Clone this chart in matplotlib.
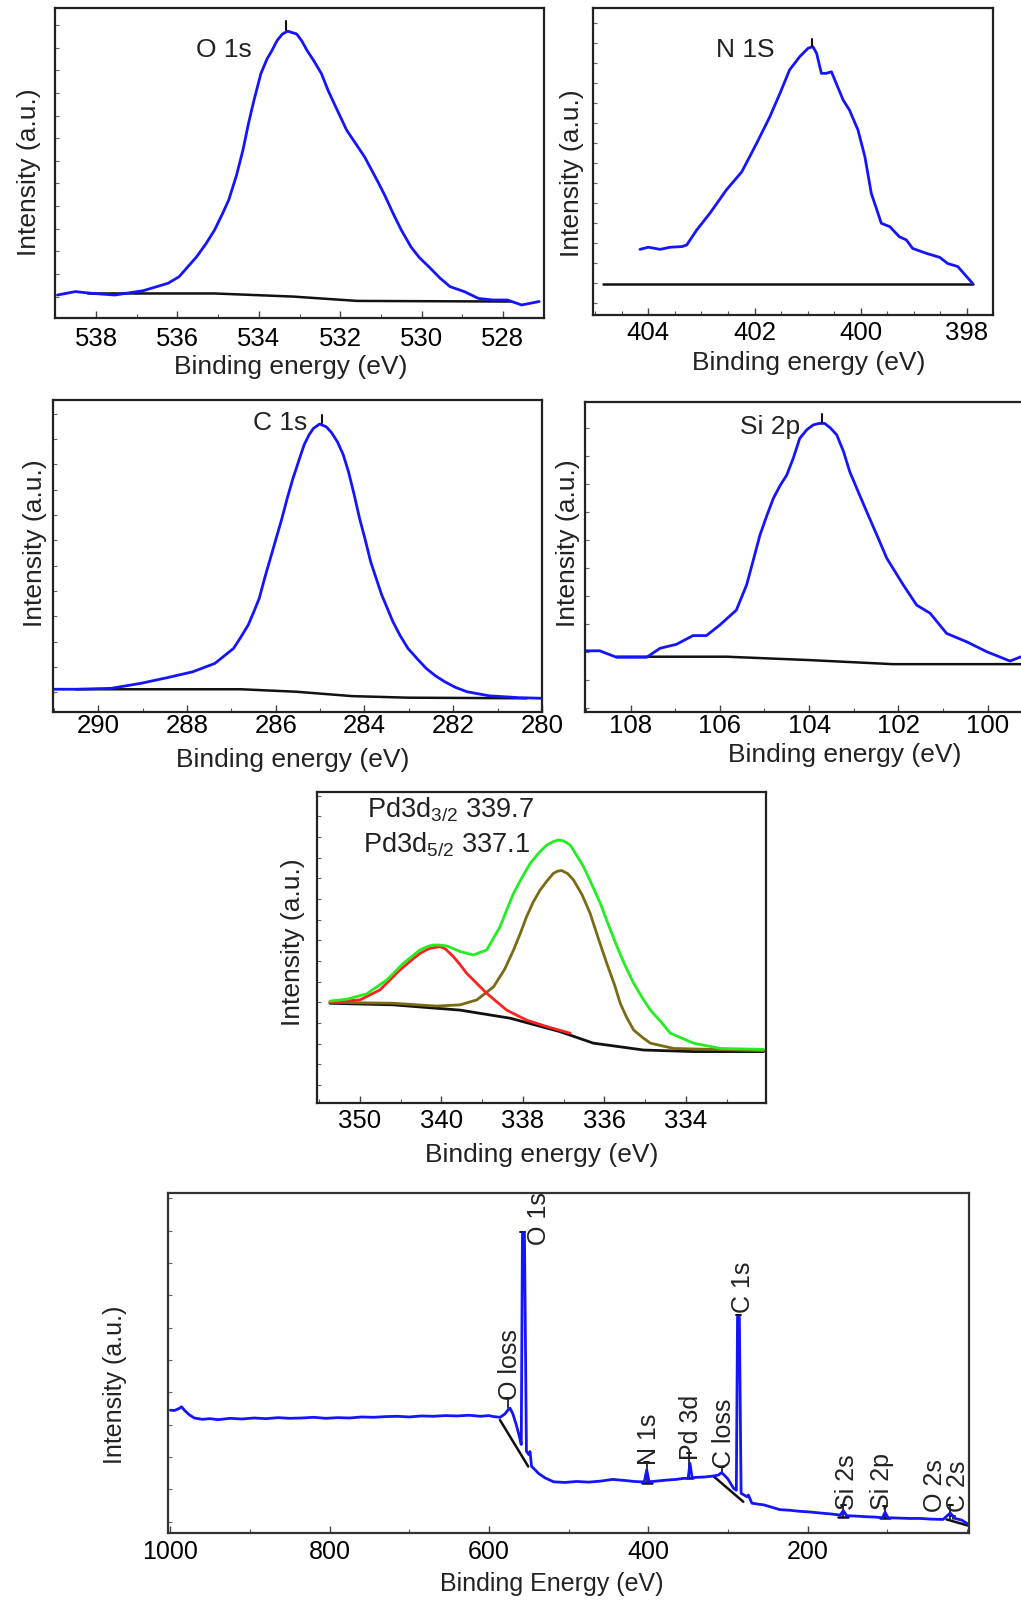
import matplotlib
matplotlib.use("Agg")
import matplotlib.pyplot as plt
import numpy as np

plt.rcParams['font.family'] = ['Liberation Sans', 'DejaVu Sans']
plt.rcParams['mathtext.fontset'] = 'custom'
plt.rcParams['mathtext.rm'] = 'Liberation Sans'
plt.rcParams['lines.solid_joinstyle'] = 'round'
plt.rcParams['lines.solid_capstyle'] = 'round'

# ---------------- data ----------------
# O 1s
o1s_x = [538.95, 538.51, 538.07, 537.54, 536.84, 536.23, 535.96, 535.53, 535.30, 535.09, 534.90, 534.74,
         534.55, 534.39, 534.25, 534.12, 533.95, 533.80, 533.68, 533.55, 533.42, 533.29, 533.07, 532.95,
         532.81, 532.65, 532.46, 532.30, 532.11, 531.84, 531.40, 531.05, 530.90, 530.70, 530.50, 530.26,
         530.05, 529.82, 529.55, 529.30, 528.95, 528.60, 528.25, 527.89, 527.54, 527.11]
o1s_y = [0.075, 0.086, 0.080, 0.075, 0.089, 0.113, 0.134, 0.198, 0.240, 0.284, 0.335, 0.381,
         0.460, 0.542, 0.630, 0.702, 0.788, 0.835, 0.862, 0.895, 0.916, 0.925, 0.916, 0.895,
         0.862, 0.830, 0.788, 0.735, 0.681, 0.606, 0.520, 0.434, 0.395, 0.338, 0.285, 0.230,
         0.195, 0.166, 0.130, 0.102, 0.086, 0.064, 0.059, 0.059, 0.043, 0.054]
o1s_bg_x = [538.20, 535.09, 533.16, 531.58, 527.81]
o1s_bg_y = [0.080, 0.080, 0.070, 0.056, 0.054]

# N 1s
n1s_x = [404.16, 404.0, 403.78, 403.59, 403.37, 403.28, 403.09, 402.84, 402.53, 402.24, 401.96, 401.71,
         401.52, 401.34, 401.15, 400.99, 400.90, 400.83, 400.74, 400.65, 400.55, 400.46, 400.33, 400.21,
         400.05, 399.92, 399.80, 399.61, 399.45, 399.27, 399.14, 399.02, 398.76, 398.51, 398.36, 398.17, 397.89]
n1s_y = [0.214, 0.221, 0.214, 0.221, 0.223, 0.228, 0.277, 0.332, 0.408, 0.467, 0.560, 0.647,
         0.723, 0.799, 0.842, 0.870, 0.875, 0.853, 0.788, 0.788, 0.793, 0.755, 0.701, 0.668,
         0.603, 0.516, 0.397, 0.299, 0.288, 0.255, 0.245, 0.217, 0.201, 0.188, 0.168, 0.158, 0.103]
n1s_bg_x = [404.85, 397.89]
n1s_bg_y = [0.100, 0.100]

# C 1s
c1s_x = [291.0, 290.5, 289.71, 289.04, 288.45, 287.87, 287.37, 286.95, 286.80, 286.62, 286.50, 286.37,
         286.25, 286.12, 285.99, 285.86, 285.74, 285.61, 285.48, 285.36, 285.25, 285.15, 285.01, 284.86,
         284.74, 284.61, 284.48, 284.36, 284.23, 284.11, 283.98, 283.86, 283.73, 283.61, 283.48, 283.36,
         283.20, 283.02, 282.80, 282.61, 282.40, 282.19, 281.95, 281.69, 281.19, 280.52, 280.0]
c1s_y = [0.072, 0.072, 0.075, 0.091, 0.109, 0.128, 0.155, 0.203, 0.236, 0.278, 0.318, 0.364,
         0.428, 0.492, 0.556, 0.620, 0.685, 0.749, 0.805, 0.856, 0.888, 0.909, 0.923, 0.914,
         0.895, 0.866, 0.825, 0.770, 0.695, 0.620, 0.550, 0.481, 0.425, 0.374, 0.330, 0.289,
         0.245, 0.203, 0.168, 0.139, 0.115, 0.096, 0.078, 0.064, 0.051, 0.045, 0.043]
c1s_bg_x = [290.5, 286.78, 285.53, 284.28, 283.02, 280.35]
c1s_bg_y = [0.072, 0.072, 0.064, 0.050, 0.045, 0.043]

# Si 2p
si_x = [109.02, 108.69, 108.31, 107.64, 107.34, 106.97, 106.60, 106.30, 106.00, 105.63, 105.40, 105.25,
        105.10, 104.95, 104.80, 104.65, 104.50, 104.35, 104.21, 104.05, 103.91, 103.78, 103.65, 103.52,
        103.38, 103.23, 103.09, 102.90, 102.71, 102.48, 102.26, 101.89, 101.59, 101.29, 100.92, 100.47,
        100.02, 99.50, 99.25, 99.05]
si_y = [0.198, 0.198, 0.177, 0.177, 0.206, 0.219, 0.247, 0.247, 0.281, 0.329, 0.410, 0.490,
        0.571, 0.632, 0.689, 0.730, 0.764, 0.820, 0.882, 0.910, 0.925, 0.930, 0.930, 0.915,
        0.893, 0.840, 0.775, 0.710, 0.646, 0.570, 0.496, 0.410, 0.345, 0.319, 0.254, 0.227,
        0.195, 0.165, 0.179, 0.195]
si_bg_x = [108.31, 105.85, 103.98, 102.12, 99.0]
si_bg_y = [0.179, 0.179, 0.168, 0.155, 0.155]

# Pd 3d
pd_tot_x = [342.74, 342.33, 341.84, 341.34, 340.94, 340.53, 340.35, 340.20, 340.05, 339.87, 339.54, 339.22,
            338.89, 338.56, 338.40, 338.23, 338.00, 337.82, 337.60, 337.41, 337.25, 337.13, 337.00, 336.84,
            336.70, 336.51, 336.30, 336.10, 335.90, 335.69, 335.50, 335.28, 335.05, 334.87, 334.60, 334.38,
            333.81, 333.15, 332.09]
pd_tot_y = [0.328, 0.334, 0.351, 0.396, 0.449, 0.492, 0.503, 0.508, 0.508, 0.505, 0.487, 0.476,
            0.492, 0.567, 0.620, 0.674, 0.730, 0.770, 0.805, 0.829, 0.840, 0.845, 0.842, 0.829,
            0.800, 0.759, 0.700, 0.642, 0.573, 0.503, 0.445, 0.385, 0.335, 0.299, 0.260, 0.225,
            0.193, 0.176, 0.173]
pd32_x = [342.74, 342.0, 341.51, 341.02, 340.75, 340.53, 340.30, 340.03, 339.90, 339.71, 339.55, 339.38,
          338.89, 338.40, 337.91, 337.41, 336.84]
pd32_y = [0.324, 0.332, 0.364, 0.428, 0.458, 0.481, 0.497, 0.503, 0.495, 0.471, 0.446, 0.417,
          0.353, 0.299, 0.267, 0.246, 0.225]
pd52_x = [342.74, 341.18, 340.12, 339.54, 339.13, 338.72, 338.45, 338.23, 338.05, 337.91, 337.75, 337.58,
          337.40, 337.25, 337.15, 337.05, 336.90, 336.76, 336.55, 336.35, 336.15, 335.94, 335.75, 335.61,
          335.45, 335.28, 335.05, 334.87, 334.30, 332.09]
pd52_y = [0.324, 0.321, 0.312, 0.316, 0.332, 0.374, 0.430, 0.492, 0.550, 0.599, 0.645, 0.684,
          0.715, 0.738, 0.745, 0.747, 0.737, 0.717, 0.670, 0.610, 0.530, 0.449, 0.380, 0.321,
          0.275, 0.235, 0.210, 0.193, 0.176, 0.169]
pd_bg_x = [342.74, 341.18, 339.54, 338.31, 337.09, 336.27, 335.04, 333.81, 332.09]
pd_bg_y = [0.321, 0.316, 0.299, 0.273, 0.230, 0.193, 0.171, 0.166, 0.166]
pd_ticks = [342, 340, 338, 336, 334]
pd_ticklabels = ["350", "340", "338", "336", "334"]
pd_text = [r"Pd3d$_{\mathregular{3/2}}$ 339.7", r"Pd3d$_{\mathregular{5/2}}$ 337.1"]

# Survey
sv_x = [1000, 995, 989, 986, 982, 976, 970, 960, 950, 940, 925, 910, 895, 880, 865, 850, 835, 820, 805, 790,
        775, 760, 745, 730, 715, 700, 685, 670, 655, 640, 625, 611, 600, 594, 586, 580, 576, 573.6, 570, 566,
        562, 559.5, 558, 555.5, 553, 550, 548.5, 546.5, 542, 538, 530, 519, 505, 490, 475, 460, 445, 430,
        418, 410, 405, 402, 399, 390, 377, 365, 356, 350, 347.7, 345, 340, 330, 318, 312, 308, 304, 300,
        293, 289.5, 288, 285.7, 283.5, 279, 276.4, 274.4, 270, 262, 255, 245, 235, 222, 210, 197, 184, 170,
        159, 155.2, 151, 140, 126, 115, 106, 102.8, 99, 85, 72, 59, 45, 30, 21, 15, 6.5, -3]
sv_y = [0.361, 0.360, 0.366, 0.371, 0.360, 0.347, 0.338, 0.334, 0.336, 0.333, 0.337, 0.335, 0.338, 0.336,
        0.339, 0.337, 0.338, 0.340, 0.337, 0.339, 0.338, 0.341, 0.340, 0.342, 0.343, 0.341, 0.344, 0.343,
        0.345, 0.344, 0.346, 0.343, 0.345, 0.342, 0.340, 0.350, 0.362, 0.367, 0.350, 0.320, 0.285, 0.260,
        0.882, 0.885, 0.240, 0.230, 0.239, 0.195, 0.185, 0.175, 0.162, 0.150, 0.148, 0.151, 0.149, 0.152,
        0.157, 0.154, 0.151, 0.150, 0.150, 0.185, 0.150, 0.152, 0.155, 0.157, 0.160, 0.160, 0.204, 0.162,
        0.163, 0.164, 0.167, 0.170, 0.177, 0.168, 0.158, 0.131, 0.125, 0.636, 0.636, 0.116, 0.110, 0.106,
        0.111, 0.087, 0.084, 0.082, 0.075, 0.068, 0.066, 0.063, 0.061, 0.058, 0.055, 0.052, 0.065, 0.050,
        0.049, 0.047, 0.046, 0.044, 0.060, 0.044, 0.043, 0.042, 0.042, 0.040, 0.039, 0.058, 0.042, 0.037,
        0.023]
sv_bg_x = [[586.2, 550.7], [408.3, 395.8], [351.8, 343.5], [318.4, 280.7], [161.5, 149.0], [109.0, 96.6], [25.5, -3.0]]
sv_bg_y = [[0.332, 0.195], [0.146, 0.146], [0.160, 0.160], [0.167, 0.091], [0.047, 0.047], [0.042, 0.042], [0.039, 0.020]]
sv_labels = ["O loss", "O 1s", "N 1s", "Pd 3d", "C loss", "C 1s", "Si 2s", "Si 2p", "O 2s", "C 2s"]
sv_text_x = [573.6, 537.2, 399.1, 346.8, 305.0, 280.7, 151.1, 106.2, 40.0, 10.8]
sv_text_y = [0.391, 0.848, 0.199, 0.214, 0.190, 0.646, 0.067, 0.067, 0.062, 0.062]
sv_peak_x = [576.5, 557.5, 402.0, 349.0, 308.0, 287.0, 155.2, 102.8, 21.0, 18.0]
sv_mark_y0 = [0.367, 0.882, 0.146, 0.160, 0.177, 0.636, 0.047, 0.042, 0.039, 0.039]
sv_mark_y1 = [0.396, 0.887, 0.209, 0.234, 0.195, 0.641, 0.082, 0.080, 0.082, 0.050]
sv_ticks = [1000, 800, 600, 400, 200]

W, H = 1021, 1603
fig = plt.figure(figsize=(W / 100, H / 100), dpi=100)
BLUE = '#1414ff'
TK = 18.5


def add_ax(l, t, r, b):
    return fig.add_axes([l / W, 1 - b / H, (r - l) / W, (b - t) / H])


def style(ax, xlim, ticks, labels, minor, ystart, ystep, pad, fs=TK):
    ax.set_xlim(*xlim)
    ax.set_ylim(0, 1)
    ax.set_xticks(ticks)
    ax.set_xticklabels(labels)
    ax.set_xticks(minor, minor=True)
    ax.set_yticks(np.arange(ystart, 1.0, ystep))
    ax.set_yticklabels([])
    ax.tick_params(axis='x', which='major', direction='in', length=5, width=1.0,
                   pad=pad, labelsize=fs, color='#444')
    ax.tick_params(axis='x', which='minor', direction='in', length=3, width=0.8, color='#555')
    ax.tick_params(axis='y', which='major', direction='in', length=3, width=0.8, color='#666')
    for s in ax.spines.values():
        s.set_linewidth(1.6)
        s.set_color('#222')


def ftext(x, y, s, **kw):
    fig.text(x / W, 1 - y / H, s, **kw)


def xlab(x, y, s='Binding energy (eV)', fs=19):
    ftext(x, y, s, ha='center', va='center', fontsize=fs, color='#222')


def ylab(x, y, fs=19):
    ftext(x, y, 'Intensity (a.u.)', ha='center', va='center', rotation=90, fontsize=fs, color='#222')


# Panel 1: O 1s
ax1 = add_ax(55.4, 7.9, 543.6, 318.3)
ax1.plot(o1s_bg_x, o1s_bg_y, color='#111', lw=1.8)
ax1.plot(o1s_x, o1s_y, color=BLUE, lw=2.0)
ax1.plot([533.33, 533.33], [0.929, 0.959], color='#111', lw=1.5)
ax1.text(534.87, 0.863, 'O 1s', ha='center', va='center', fontsize=19, color='#222')
t = [538, 536, 534, 532, 530, 528]
style(ax1, (539.0, 527.0), t, [str(v) for v in t], np.arange(527, 540, 1), 0.070, 0.0729, 6)
ylab(28.6, 171.7)
xlab(291, 366.7)

# Panel 2: N 1S
ax2 = add_ax(592.7, 8.3, 993.3, 315)
ax2.plot(n1s_bg_x, n1s_bg_y, color='#111', lw=1.8)
ax2.plot(n1s_x, n1s_y, color=BLUE, lw=2.0)
ax2.plot([400.92, 400.92], [0.877, 0.899], color='#111', lw=1.5)
ax2.text(402.18, 0.864, 'N 1S', ha='center', va='center', fontsize=19, color='#222')
t = [404, 402, 400, 398]
style(ax2, (405.05, 397.51), t, [str(v) for v in t], np.arange(397.5, 405.1, 0.5), 0.038, 0.0652, 4)
ylab(571.7, 173.3)
xlab(808.3, 363.3)

# Panel 3: C 1s
ax3 = add_ax(52.9, 400, 542, 711.7)
ax3.plot(c1s_bg_x, c1s_bg_y, color='#111', lw=1.8)
ax3.plot(c1s_x, c1s_y, color=BLUE, lw=2.0)
ax3.plot([284.95, 284.95], [0.925, 0.952], color='#111', lw=1.5)
ax3.text(285.9, 0.925, 'C 1s', ha='center', va='center', fontsize=19, color='#222')
t = [290, 288, 286, 284, 282, 280]
style(ax3, (291.02, 280.0), t, [str(v) for v in t], np.arange(280, 292, 1), 0.062, 0.0813, 1.5)
ylab(35.1, 543.3)
xlab(292.3, 760)

# Panel 4: Si 2p
ax4 = add_ax(585, 401.7, 1032.3, 712.3)
ax4.plot(si_bg_x, si_bg_y, color='#111', lw=1.8)
ax4.plot(si_x, si_y, color=BLUE, lw=2.0)
ax4.plot([103.72, 103.72], [0.936, 0.962], color='#111', lw=1.5)
ax4.text(104.88, 0.92, 'Si 2p', ha='center', va='center', fontsize=19, color='#222')
t = [108, 106, 104, 102, 100]
style(ax4, (109.02, 99.0), t, [str(v) for v in t], np.arange(99, 110, 1), 0.015, 0.090, 1.5)
ylab(568, 543.3)
xlab(845, 755)

# Panel 5: Pd 3d
ax5 = add_ax(317.3, 791.7, 766, 1103.3)
ax5.plot(pd_bg_x, pd_bg_y, color='#111', lw=2.0)
ax5.plot(pd52_x, pd52_y, color='#7a6a14', lw=2.0)
ax5.plot(pd32_x, pd32_y, color='#ff2020', lw=2.0)
ax5.plot(pd_tot_x, pd_tot_y, color='#22ee22', lw=2.0)
ax5.text(341.84, 0.918, pd_text[0], ha='left', va='baseline', fontsize=19.5, color='#222')
ax5.text(341.92, 0.804, pd_text[1], ha='left', va='baseline', fontsize=19.5, color='#222')
style(ax5, (343.05, 332.03), pd_ticks, pd_ticklabels, np.arange(333, 344, 1), 0.059, 0.0663, 4)
ylab(293.3, 941.7)
xlab(541.7, 1155)

# Panel 6: survey
ax6 = add_ax(167.5, 1193.3, 969.4, 1532.7)
for bx, by in zip(sv_bg_x, sv_bg_y):
    ax6.plot(bx, by, color='#111', lw=1.8)
for px, y0, y1 in zip(sv_peak_x, sv_mark_y0, sv_mark_y1):
    ax6.plot([px, px], [y0, y1], color='#111', lw=1.2)
    ax6.plot([px + 3, px - 3], [y1, y1], color='#111', lw=1.4)
ax6.plot(sv_x, sv_y, color=BLUE, lw=2.0)
for s, tx, ty in zip(sv_labels, sv_text_x, sv_text_y):
    ax6.text(tx, ty, s, rotation=90, ha='center', va='bottom', fontsize=18, color='#222')
style(ax6, (1003.6, -3.1), sv_ticks, [str(v) for v in sv_ticks], np.arange(0, 1001, 100),
      0.032, 0.0953, 5.5, fs=18)
for s in ax6.spines.values():
    s.set_color('#333')
ylab(114.5, 1385, fs=18)
xlab(552, 1584, s='Binding Energy (eV)', fs=18)

fig.savefig('out.png', dpi=100)
